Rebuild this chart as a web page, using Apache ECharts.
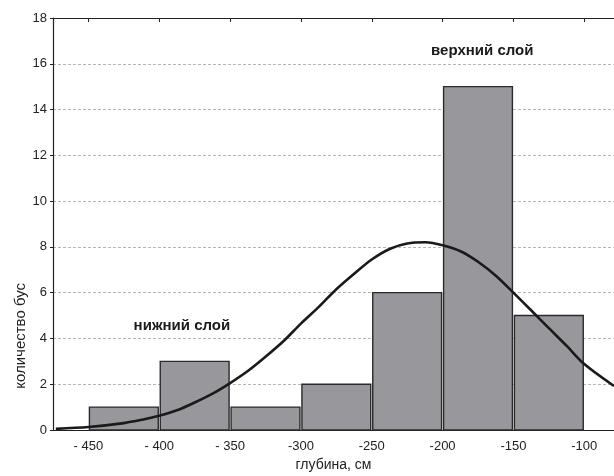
<!DOCTYPE html>
<html><head><meta charset="utf-8">
<script src="https://cdn.jsdelivr.net/npm/echarts@6/dist/echarts.min.js"></script>
<style>html,body{margin:0;padding:0;background:#fff}#c{width:614px;height:476px}</style>
</head><body><div id="c"></div>
<script>
// Histogram bins (depth, cm) and counts
const binStarts = [-450, -400, -350, -300, -250, -200, -150];
const binEnds   = [-400, -350, -300, -250, -200, -150, -100];
const binCounts = [1, 3, 1, 2, 6, 15, 5];

// Fitted curve
const curveX = [-473, -450, -425, -412, -400, -387, -375, -362, -350, -337, -325, -312, -300, -287, -275, -262, -250, -237, -225, -212, -200, -187, -175, -162, -150, -137, -125, -112, -100, -79];
const curveY = [0.05, 0.13, 0.3, 0.45, 0.62, 0.87, 1.2, 1.6, 2.05, 2.6, 3.2, 3.9, 4.65, 5.4, 6.15, 6.85, 7.45, 7.92, 8.15, 8.2, 8.07, 7.8, 7.35, 6.72, 6.0, 5.2, 4.45, 3.65, 2.88, 1.92];

// Tick labels
const xTickValues = [-450, -400, -350, -300, -250, -200, -150, -100];
const xTickLabels = ['- 450', '- 400', '- 350', '-300', '-250', '-200', '-150', '-100'];

// Annotations
const noteTexts = ['верхний слой', 'нижний слой'];
const noteX = [-172, -384];
const noteY = [16.55, 4.55];

const xName = 'глубина, см';
const yName = 'количество бус';

const FONT = '"Liberation Sans", Arial, sans-serif';
const chart = echarts.init(document.getElementById('c'), null, {renderer: 'canvas'});

const barData = binStarts.map((s, i) => [s, binEnds[i], binCounts[i]]);
const curveData = curveX.map((x, i) => [x, curveY[i]]);
const noteData = noteTexts.map((t, i) => [noteX[i], noteY[i], i]);

chart.setOption({
  animation: false,
  backgroundColor: '#fff',
  grid: {left: 53, right: 0, top: 18, bottom: 46, containLabel: false, outerBoundsMode: 'none'},
  xAxis: [{
    type: 'value', min: -475, max: -79, position: 'bottom',
    axisLine: {show: true, onZero: false, lineStyle: {color: '#222', width: 1.2}},
    axisTick: {show: false},
    splitLine: {show: false},
    axisLabel: {
      customValues: xTickValues,
      formatter: v => { const i = xTickValues.indexOf(v); return i >= 0 ? xTickLabels[i] : ''; },
      margin: 10, fontSize: 13, color: '#222', fontFamily: FONT
    },
    name: xName, nameLocation: 'middle', nameGap: 28,
    nameTextStyle: {fontSize: 14, color: '#222', fontFamily: FONT}
  }, {
    type: 'value', min: -475, max: -79, position: 'top',
    axisLine: {show: true, onZero: false, lineStyle: {color: '#222', width: 1.2}},
    axisTick: {show: true, inside: true, length: 4, customValues: xTickValues, lineStyle: {color: '#222'}},
    axisLabel: {show: false},
    splitLine: {show: false}
  }],
  yAxis: {
    type: 'value', min: 0, max: 18, interval: 2,
    axisLine: {show: true, lineStyle: {color: '#222', width: 1.2}},
    axisTick: {show: true, inside: false, length: 3, lineStyle: {color: '#222'}},
    axisLabel: {fontSize: 13, color: '#222', margin: 6, fontFamily: FONT},
    splitLine: {show: true, lineStyle: {color: '#b5b5b5', type: [3, 2], width: 1}}
  },
  graphic: [{
    type: 'text', left: 13, top: 283,
    rotation: Math.PI / 2,
    style: {text: yName, font: '15px ' + FONT, fill: '#222'}
  }],
  series: [{
    type: 'custom',
    xAxisIndex: 0,
    data: barData,
    encode: {x: [0, 1], y: 2},
    z: 2,
    renderItem: (params, api) => {
      const p0 = api.coord([api.value(0), api.value(2)]);
      const p1 = api.coord([api.value(1), 0]);
      return {
        type: 'rect',
        shape: {x: p0[0] + 1, y: p0[1], width: p1[0] - p0[0] - 2, height: p1[1] - p0[1]},
        style: {fill: '#98989c', stroke: '#2a2a2a', lineWidth: 1.4}
      };
    }
  }, {
    type: 'line',
    xAxisIndex: 0,
    data: curveData,
    smooth: 0.3,
    showSymbol: false,
    z: 5,
    lineStyle: {color: '#1a1a1a', width: 2.6}
  }, {
    type: 'custom',
    xAxisIndex: 0,
    data: noteData,
    encode: {x: 0, y: 1},
    z: 6,
    renderItem: (params, api) => {
      const p = api.coord([api.value(0), api.value(1)]);
      return {
        type: 'text',
        x: p[0], y: p[1],
        style: {
          text: noteTexts[api.value(2)],
          font: 'bold 15px ' + FONT,
          fill: '#1a1a1a', align: 'center', verticalAlign: 'middle'
        }
      };
    }
  }]
});
</script>
</body></html>
